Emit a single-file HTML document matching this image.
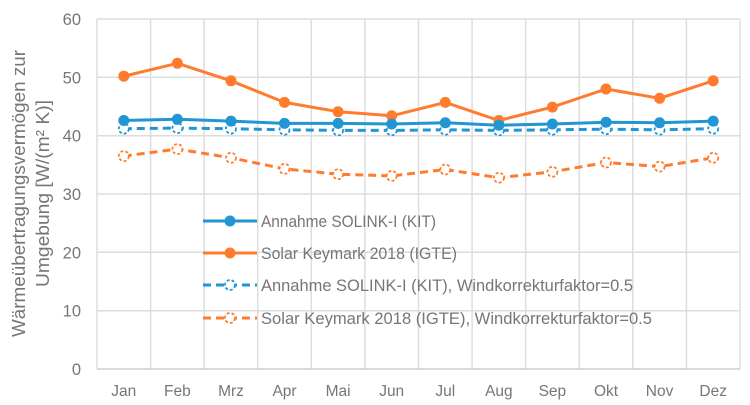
<!DOCTYPE html>
<html><head><meta charset="utf-8"><style>
html,body{margin:0;padding:0;background:#fff;}
svg{display:block;}
text{font-family:"Liberation Sans",Arial,sans-serif;fill:#767676;}
</style></head><body>
<svg width="750" height="405" viewBox="0 0 750 405" xmlns="http://www.w3.org/2000/svg">
<g stroke="#DDDDDD" stroke-width="1.5" fill="none">
<line x1="97" y1="19" x2="740" y2="19"/>
<line x1="97" y1="77.3" x2="740" y2="77.3"/>
<line x1="97" y1="135.7" x2="740" y2="135.7"/>
<line x1="97" y1="194" x2="740" y2="194"/>
<line x1="97" y1="252.3" x2="740" y2="252.3"/>
<line x1="97" y1="310.7" x2="740" y2="310.7"/>
<line x1="97" y1="19" x2="97" y2="369"/>
<line x1="150.6" y1="19" x2="150.6" y2="369"/>
<line x1="204.2" y1="19" x2="204.2" y2="369"/>
<line x1="257.7" y1="19" x2="257.7" y2="369"/>
<line x1="311.3" y1="19" x2="311.3" y2="369"/>
<line x1="364.9" y1="19" x2="364.9" y2="369"/>
<line x1="418.5" y1="19" x2="418.5" y2="369"/>
<line x1="472.1" y1="19" x2="472.1" y2="369"/>
<line x1="525.7" y1="19" x2="525.7" y2="369"/>
<line x1="579.2" y1="19" x2="579.2" y2="369"/>
<line x1="632.8" y1="19" x2="632.8" y2="369"/>
<line x1="686.4" y1="19" x2="686.4" y2="369"/>
<line x1="740" y1="19" x2="740" y2="369"/>
</g>
<line x1="97" y1="369" x2="740" y2="369" stroke="#CFCFCF" stroke-width="1.5"/>

<!-- y tick labels -->
<g font-size="16.5" text-anchor="end">
<text x="81" y="25">60</text>
<text x="81" y="83.3">50</text>
<text x="81" y="141.7">40</text>
<text x="81" y="200">30</text>
<text x="81" y="258.3">20</text>
<text x="81" y="316.7">10</text>
<text x="81" y="375">0</text>
</g>

<!-- x labels -->
<g font-size="15.5" text-anchor="middle">
<text x="123.8" y="396">Jan</text>
<text x="177.4" y="396">Feb</text>
<text x="231.0" y="396">Mrz</text>
<text x="284.5" y="396">Apr</text>
<text x="338.1" y="396">Mai</text>
<text x="391.7" y="396">Jun</text>
<text x="445.3" y="396">Jul</text>
<text x="498.9" y="396">Aug</text>
<text x="552.4" y="396">Sep</text>
<text x="606.0" y="396">Okt</text>
<text x="659.6" y="396">Nov</text>
<text x="713.2" y="396">Dez</text>
</g>

<!-- y axis title -->
<g font-size="18.5" text-anchor="middle">
<text transform="translate(25,193.5) rotate(-90)" textLength="287" lengthAdjust="spacingAndGlyphs">Wärmeübertragungsvermögen zur</text>
<text transform="translate(49,193.5) rotate(-90)" textLength="187" lengthAdjust="spacingAndGlyphs">Umgebung [W/(m² K)]</text>
</g>

<!-- Series: orange dashed -->
<polyline fill="none" stroke="#FF7C2E" stroke-width="3" stroke-dasharray="8,5" stroke-linejoin="round"
points="123.8,156.1 177.4,149.1 231.0,157.8 284.5,168.9 338.1,174.2 391.7,175.9 445.3,169.5 498.9,177.7 552.4,171.8 606.0,162.5 659.6,166.6 713.2,157.8"/>
<g fill="#fff" stroke="#FF7C2E" stroke-width="1.8" stroke-dasharray="3,2">
<circle cx="123.8" cy="156.1" r="5"/><circle cx="177.4" cy="149.1" r="5"/><circle cx="231.0" cy="157.8" r="5"/><circle cx="284.5" cy="168.9" r="5"/><circle cx="338.1" cy="174.2" r="5"/><circle cx="391.7" cy="175.9" r="5"/><circle cx="445.3" cy="169.5" r="5"/><circle cx="498.9" cy="177.7" r="5"/><circle cx="552.4" cy="171.8" r="5"/><circle cx="606.0" cy="162.5" r="5"/><circle cx="659.6" cy="166.6" r="5"/><circle cx="713.2" cy="157.8" r="5"/>
</g>

<!-- Series: orange solid -->
<polyline fill="none" stroke="#FF7C2E" stroke-width="3" stroke-linejoin="round"
points="123.8,76.2 177.4,63.3 231.0,80.8 284.5,102.4 338.1,111.7 391.7,115.8 445.3,102.4 498.9,120.5 552.4,107.1 606.0,89.0 659.6,98.3 713.2,80.8"/>
<g fill="#FF7C2E">
<circle cx="123.8" cy="76.2" r="5.5"/><circle cx="177.4" cy="63.3" r="5.5"/><circle cx="231.0" cy="80.8" r="5.5"/><circle cx="284.5" cy="102.4" r="5.5"/><circle cx="338.1" cy="111.7" r="5.5"/><circle cx="391.7" cy="115.8" r="5.5"/><circle cx="445.3" cy="102.4" r="5.5"/><circle cx="498.9" cy="120.5" r="5.5"/><circle cx="552.4" cy="107.1" r="5.5"/><circle cx="606.0" cy="89.0" r="5.5"/><circle cx="659.6" cy="98.3" r="5.5"/><circle cx="713.2" cy="80.8" r="5.5"/>
</g>

<!-- Series: blue dashed -->
<polyline fill="none" stroke="#2196D3" stroke-width="3" stroke-dasharray="8,5" stroke-linejoin="round"
points="123.8,128.7 177.4,128.1 231.0,128.7 284.5,129.8 338.1,130.4 391.7,130.4 445.3,129.8 498.9,130.4 552.4,129.8 606.0,129.2 659.6,129.8 713.2,128.7"/>
<g fill="#fff" stroke="#2196D3" stroke-width="1.8" stroke-dasharray="3,2">
<circle cx="123.8" cy="128.7" r="5"/><circle cx="177.4" cy="128.1" r="5"/><circle cx="231.0" cy="128.7" r="5"/><circle cx="284.5" cy="129.8" r="5"/><circle cx="338.1" cy="130.4" r="5"/><circle cx="391.7" cy="130.4" r="5"/><circle cx="445.3" cy="129.8" r="5"/><circle cx="498.9" cy="130.4" r="5"/><circle cx="552.4" cy="129.8" r="5"/><circle cx="606.0" cy="129.2" r="5"/><circle cx="659.6" cy="129.8" r="5"/><circle cx="713.2" cy="128.7" r="5"/>
</g>

<!-- Series: blue solid -->
<polyline fill="none" stroke="#2196D3" stroke-width="3" stroke-linejoin="round"
points="123.8,120.5 177.4,119.3 231.0,121.1 284.5,123.4 338.1,123.4 391.7,124.0 445.3,122.8 498.9,125.2 552.4,124.0 606.0,122.2 659.6,122.8 713.2,121.1"/>
<g fill="#2196D3">
<circle cx="123.8" cy="120.5" r="5.5"/><circle cx="177.4" cy="119.3" r="5.5"/><circle cx="231.0" cy="121.1" r="5.5"/><circle cx="284.5" cy="123.4" r="5.5"/><circle cx="338.1" cy="123.4" r="5.5"/><circle cx="391.7" cy="124.0" r="5.5"/><circle cx="445.3" cy="122.8" r="5.5"/><circle cx="498.9" cy="125.2" r="5.5"/><circle cx="552.4" cy="124.0" r="5.5"/><circle cx="606.0" cy="122.2" r="5.5"/><circle cx="659.6" cy="122.8" r="5.5"/><circle cx="713.2" cy="121.1" r="5.5"/>
</g>

<!-- Legend -->
<line x1="203" y1="221" x2="257" y2="221" stroke="#2196D3" stroke-width="3"/>
<circle cx="230" cy="221" r="5.5" fill="#2196D3"/>
<line x1="203" y1="253" x2="257" y2="253" stroke="#FF7C2E" stroke-width="3"/>
<circle cx="230" cy="253" r="5.5" fill="#FF7C2E"/>
<line x1="203" y1="285" x2="257" y2="285" stroke="#2196D3" stroke-width="3" stroke-dasharray="8,5"/>
<circle cx="230" cy="285" r="5" fill="#fff" stroke="#2196D3" stroke-width="1.8" stroke-dasharray="3,2"/>
<line x1="203" y1="318" x2="257" y2="318" stroke="#FF7C2E" stroke-width="3" stroke-dasharray="8,5"/>
<circle cx="230" cy="318" r="5" fill="#fff" stroke="#FF7C2E" stroke-width="1.8" stroke-dasharray="3,2"/>
<g font-size="16.5">
<text x="261" y="227" textLength="175" lengthAdjust="spacingAndGlyphs">Annahme SOLINK-I (KIT)</text>
<text x="261" y="259" textLength="196" lengthAdjust="spacingAndGlyphs">Solar Keymark 2018 (IGTE)</text>
<text x="261" y="291" textLength="372" lengthAdjust="spacingAndGlyphs">Annahme SOLINK-I (KIT), Windkorrekturfaktor=0.5</text>
<text x="261" y="324" textLength="391" lengthAdjust="spacingAndGlyphs">Solar Keymark 2018 (IGTE), Windkorrekturfaktor=0.5</text>
</g>
</svg>
</body></html>
